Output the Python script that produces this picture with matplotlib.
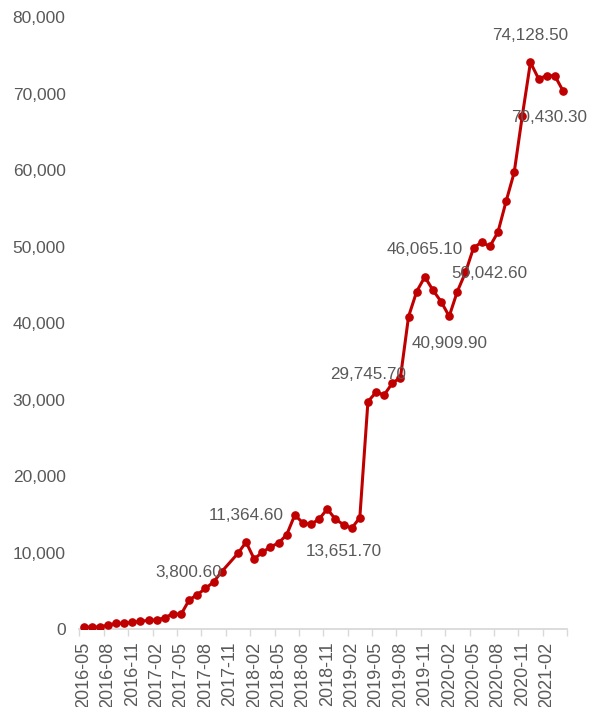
import numpy as np
import pandas as pd
import matplotlib
matplotlib.use("Agg")
import matplotlib.pyplot as plt
from matplotlib.ticker import FuncFormatter, FixedLocator

plt.rcParams['font.family'] = ['Liberation Sans', 'DejaVu Sans']

# Monthly categories, 2016-05 .. 2021-04
months = [str(p) for p in pd.period_range("2016-05", "2021-04", freq="M")]

# Monthly values (2017-11 not reported)
values = [
    300, 220, 300, 480, 740, 740, 870, 1000, 1140, 1180,
    1480, 2000, 1920, 3800.6, 4500, 5300, 6150, 7500, np.nan, 9900,
    11364.6, 9160, 10040, 10730, 11260, 12330, 14920, 13870, 13700, 14400,
    15700, 14360, 13651.7, 13180, 14570, 29745.7, 30980, 30630, 32160, 32900,
    40880, 44150, 46065.1, 44330, 42840, 40909.9, 44150, 46640, 49870, 50610,
    50042.6, 51920, 55930, 59730, 67150, 74128.5, 71990, 72380, 72380, 70430.3,
]

# Months whose values are written on the chart, and where the text sits
label_months = ["2017-06", "2018-01", "2019-01", "2019-04", "2019-11",
                "2020-02", "2020-07", "2020-12", "2021-04"]
label_side = ["above", "above", "below", "above", "above",
              "below", "below", "above", "below"]

RED = "#C00000"
GRAY = "#595959"
AXIS = "#D9D9D9"

fig = plt.figure(figsize=(5.91, 7.07), dpi=100)
ax = fig.add_axes([79.5 / 591, 78 / 707, (567 - 79.5) / 591, (629 - 17.5) / 707])

x = np.arange(len(months))
y = np.array(values, dtype=float)
ok = ~np.isnan(y)
ax.plot(x[ok], y[ok], color=RED, linewidth=2.2, marker="o", markersize=5.2,
        markerfacecolor=RED, markeredgecolor=RED, solid_joinstyle="round", zorder=3)

for m, side in zip(label_months, label_side):
    i = months.index(m)
    v = values[i]
    dy = 27 if side == "above" else -27
    dx = 0
    if i == len(months) - 1:
        dx = -14
    ax.annotate(f"{v:,.2f}", (i, v), xytext=(dx, dy), textcoords="offset pixels",
                ha="center", va="center", fontsize=12.3, color=GRAY, zorder=4,
                annotation_clip=False)

ax.set_xlim(-0.5, len(months) - 0.5)
ax.set_ylim(0, 80000)
ax.yaxis.set_major_locator(FixedLocator(np.arange(0, 80001, 10000)))
ax.yaxis.set_major_formatter(FuncFormatter(lambda v, p: f"{v:,.0f}"))
ax.tick_params(axis="y", length=0, pad=10, labelsize=12.5, labelcolor=GRAY)

# Tick marks on category boundaries, labels on every third month
ax.set_xticks(np.arange(-0.5, len(months), 3))
ax.set_xticklabels([])
ax.set_xticks(np.arange(0, len(months), 3), minor=True)
ax.set_xticklabels(months[::3], minor=True, rotation=90)
ax.tick_params(axis="x", which="major", length=5, width=1, color=AXIS)
ax.tick_params(axis="x", which="minor", length=0, pad=9, labelsize=13,
               labelcolor=GRAY)

for s in ["top", "right", "left"]:
    ax.spines[s].set_visible(False)
ax.spines["bottom"].set_color(AXIS)
ax.spines["bottom"].set_linewidth(1.3)
ax.set_facecolor("white")

fig.savefig("out.png", dpi=100, facecolor="white")
